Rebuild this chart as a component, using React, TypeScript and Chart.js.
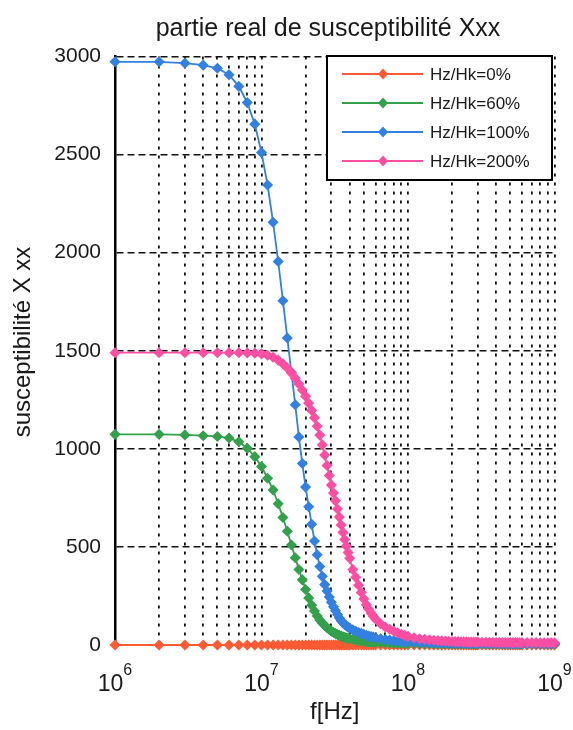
import React, { useEffect, useRef } from "react";
import { Chart, registerables } from "chart.js";

Chart.register(...registerables);

// ---------- data ----------
const freqMHz = [
  1, 2, 3, 4, 5, 6, 7, 8, 9, 10,
  11, 12, 13, 14, 15, 16, 17, 18, 19, 20,
  21, 22, 23, 24, 25, 26, 27, 28, 29, 30,
  31, 32, 33, 34, 35, 36, 37, 38, 39, 40,
  42, 44, 46, 48, 50, 52, 54, 56, 58, 60,
  65, 70, 75, 80, 85, 90, 95, 100,
  110, 120, 130, 140, 150, 160, 170, 180, 190, 200,
  210, 220, 230, 240, 250, 260, 270, 280, 290, 300,
  320, 340, 360, 380, 400, 420, 440, 460, 480, 500, 520, 540, 560, 580, 600,
  650, 700, 750, 800, 850, 900, 950, 1000,
];

const hz0 = [
  0, 0, 0, 0, 0, 0, 0, 0, 0, 0,
  0, 0, 0, 0, 0, 0, 0, 0, 0, 0,
  0, 0, 0, 0, 0, 0, 0, 0, 0, 0,
  0, 0, 0, 0, 0, 0, 0, 0, 0, 0,
  0, 0, 0, 0, 0, 0, 0, 0, 0, 0,
  0, 0, 0, 0, 0, 0, 0, 0,
  0, 0, 0, 0, 0, 0, 0, 0, 0, 0,
  0, 0, 0, 0, 0, 0, 0, 0, 0, 0,
  0, 0, 0, 0, 0, 0, 0, 0, 0, 0, 0, 0, 0, 0, 0,
  0, 0, 0, 0, 0, 0, 0, 0,
];

const hz60 = [
  1074, 1074, 1071, 1067, 1063, 1055, 1036, 1003, 960, 910,
  850, 790, 720, 650, 580, 510, 445, 385, 332, 283,
  240, 203, 173, 148, 128, 112, 99, 88, 79, 71,
  64, 58, 53, 49, 45, 42, 39, 36, 34, 32,
  29, 26, 23, 21, 19, 17, 16, 15, 14, 13,
  12, 11, 10, 9.5, 9, 8.5, 8, 8,
  7.5, 7, 7, 6.5, 6.5, 6, 6, 6, 6, 6,
  5.8, 5.8, 5.6, 5.6, 5.5, 5.5, 5.5, 5.5, 5.5, 5.5,
  5.5, 5.5, 5.5, 5.5, 5.5, 5, 5, 5, 5, 5, 5, 5, 5, 5, 5,
  5, 5, 5, 5, 5, 5, 5, 5,
];

const hz100 = [
  2973, 2973, 2966, 2956, 2940, 2907, 2848, 2765, 2655, 2510,
  2345, 2155, 1955, 1755, 1565, 1390, 1225, 1060, 925, 805,
  705, 615, 530, 460, 400, 350, 308, 275, 245, 218,
  195, 175, 155, 138, 124, 113, 104, 97, 91, 86,
  77, 70, 64, 59, 54, 50, 46, 43, 40, 37,
  32, 28, 25, 22, 20, 18, 17, 16,
  14, 13, 12, 11.5, 11, 10.5, 10, 10, 9.5, 9.5,
  9.2, 9, 9, 8.8, 8.7, 8.5, 8.5, 8.3, 8.2, 8,
  8, 8, 8, 7.5, 7.5, 7.5, 7.4, 7.3, 7.2, 7, 7, 7, 7, 7, 7,
  7, 7, 7, 7, 7, 7, 7, 7,
];

const hz200 = [
  1490, 1490, 1490, 1490, 1490, 1490, 1490, 1489, 1488, 1484,
  1477, 1467, 1452, 1434, 1412, 1387, 1360, 1331, 1300, 1268,
  1233, 1196, 1158, 1115, 1070, 1020, 968, 915, 864, 815,
  775, 735, 693, 652, 612, 574, 538, 505, 472, 442,
  385, 345, 305, 268, 235, 205, 182, 162, 146, 133,
  108, 92, 80, 70, 62, 55, 49, 44,
  37, 32, 29, 26, 24, 22.5, 21, 20, 19, 18,
  17.5, 17, 16.5, 16, 15.8, 15.5, 15.2, 15, 14.8, 14.5,
  14, 14, 13.5, 13.5, 13, 13, 13, 12.8, 12.6, 12.5, 12.4, 12.3, 12.2, 12.1, 12,
  12, 12, 11.8, 11.6, 11.5, 11.5, 11.5, 11.5,
];

const seriesLabels = ["Hz/Hk=0%", "Hz/Hk=60%", "Hz/Hk=100%", "Hz/Hk=200%"];
const seriesValues = [hz0, hz60, hz100, hz200];
const xDecadeExponents = [6, 7, 8, 9];
const xMinorMultipliers = [1, 2, 3, 4, 5, 6, 7, 8, 9];
const yTickStep = 500;
const yMin = 0;
const yMax = 3000;

const titleText = "partie real de susceptibilité Xxx";
const xTitleText = "f[Hz]";
const yTitleText = "susceptibilité X xx";

// ---------- styles ----------
const FONT = '"Liberation Sans", Arial, Helvetica, sans-serif';
const seriesColors = ["#ff5b35", "#34a04c", "#3380e0", "#ff4fa3"];
const TEXT_COLOR = "#1a1a1a";

const textPlugin = {
  id: "customTexts",
  afterDraw(chart: any) {
    const { ctx, chartArea } = chart;
    const xs = chart.scales.x;
    ctx.save();
    ctx.fillStyle = TEXT_COLOR;

    // title
    ctx.font = `25px ${FONT}`;
    ctx.textAlign = "center";
    ctx.textBaseline = "middle";
    ctx.fillText(titleText, 328, 29);

    // x title
    ctx.font = `24px ${FONT}`;
    ctx.fillText(xTitleText, (chartArea.left + chartArea.right) / 2, 712);

    // y title
    ctx.save();
    ctx.translate(23, 342);
    ctx.rotate(-Math.PI / 2);
    ctx.fillText(yTitleText, 0, 0);
    ctx.restore();

    // x tick labels 10^n
    ctx.textAlign = "left";
    ctx.textBaseline = "alphabetic";
    xDecadeExponents.forEach((e) => {
      const px = xs.getPixelForValue(Math.pow(10, e));
      ctx.font = `23px ${FONT}`;
      const w1 = ctx.measureText("10").width;
      ctx.font = `16px ${FONT}`;
      const w2 = ctx.measureText(String(e)).width;
      const x0 = px - (w1 + w2) / 2;
      ctx.font = `23px ${FONT}`;
      ctx.fillText("10", x0, 691);
      ctx.font = `16px ${FONT}`;
      ctx.fillText(String(e), x0 + w1, 675);
    });

    // legend
    const lx = 327, ly = 56, lw = 225, lh = 124;
    ctx.fillStyle = "#ffffff";
    ctx.fillRect(lx, ly, lw, lh);
    ctx.strokeStyle = "#000";
    ctx.lineWidth = 2;
    ctx.strokeRect(lx, ly, lw, lh);
    seriesLabels.forEach((label, i) => {
      const y = 74 + i * 29;
      ctx.strokeStyle = seriesColors[i];
      ctx.fillStyle = seriesColors[i];
      ctx.lineWidth = 2;
      ctx.beginPath();
      ctx.moveTo(342, y);
      ctx.lineTo(423, y);
      ctx.stroke();
      ctx.beginPath();
      ctx.moveTo(383 - 5, y);
      ctx.lineTo(383, y - 5.5);
      ctx.lineTo(383 + 5, y);
      ctx.lineTo(383, y + 5.5);
      ctx.closePath();
      ctx.fill();
      ctx.fillStyle = TEXT_COLOR;
      ctx.font = `17px ${FONT}`;
      ctx.textBaseline = "middle";
      ctx.fillText(label, 430, y + 1);
    });
    ctx.restore();
  },
};

export default function App() {
  const canvasRef = useRef<HTMLCanvasElement | null>(null);

  useEffect(() => {
    if (!canvasRef.current) return;
    const orders = [3, 2, 1, 0];
    const datasets = seriesLabels.map((label, i) => ({
      label,
      data: freqMHz.map((f, j) => ({ x: f * 1e6, y: seriesValues[i][j] })),
      borderColor: seriesColors[i],
      backgroundColor: seriesColors[i],
      pointBackgroundColor: seriesColors[i],
      pointBorderColor: seriesColors[i],
      borderWidth: 1.8,
      pointStyle: "rectRot" as const,
      pointRadius: 4.5,
      pointBorderWidth: 1.5,
      tension: 0,
      clip: false as any,
      order: orders[i],
    }));

    const xTickValues: number[] = [];
    xDecadeExponents.slice(0, -1).forEach((e) => {
      xMinorMultipliers.forEach((m) => xTickValues.push(m * Math.pow(10, e)));
    });
    xTickValues.push(Math.pow(10, xDecadeExponents[xDecadeExponents.length - 1]));

    const chart = new Chart(canvasRef.current, {
      type: "line",
      data: { datasets },
      plugins: [textPlugin],
      options: {
        animation: false,
        responsive: false,
        maintainAspectRatio: false,
        layout: { padding: { top: 56.5, right: 18.5, left: 0, bottom: 0 } },
        plugins: {
          legend: { display: false },
          tooltip: { enabled: false },
          title: { display: false },
        },
        scales: {
          x: {
            type: "logarithmic",
            min: Math.pow(10, xDecadeExponents[0]),
            max: Math.pow(10, xDecadeExponents[xDecadeExponents.length - 1]),
            afterBuildTicks: (s: any) => {
              s.ticks = xTickValues.map((v) => ({ value: v }));
            },
            afterFit: (s: any) => {
              s.height = 85;
            },
            ticks: { display: false },
            grid: { color: "#111", lineWidth: 1.8, drawTicks: false },
            border: { display: true, color: "#000", width: 2, dash: [3, 6] },
          },
          y: {
            type: "linear",
            min: yMin,
            max: yMax,
            afterFit: (s: any) => {
              s.width = 115;
            },
            ticks: {
              stepSize: yTickStep,
              color: TEXT_COLOR,
              padding: 14,
              font: { size: 21, family: FONT },
              callback: (v: any) => String(v),
            },
            grid: { color: "#111", lineWidth: 1.6, drawTicks: false },
            border: { display: true, color: "#000", width: 2.5, dash: [7, 4] },
          },
        },
      },
    });
    return () => chart.destroy();
  }, []);

  return (
    <div style={{ position: "absolute", left: 0, top: 0, width: 573, height: 730, background: "#fff" }}>
      <canvas ref={canvasRef} width={573} height={730} style={{ display: "block" }} />
    </div>
  );
}
